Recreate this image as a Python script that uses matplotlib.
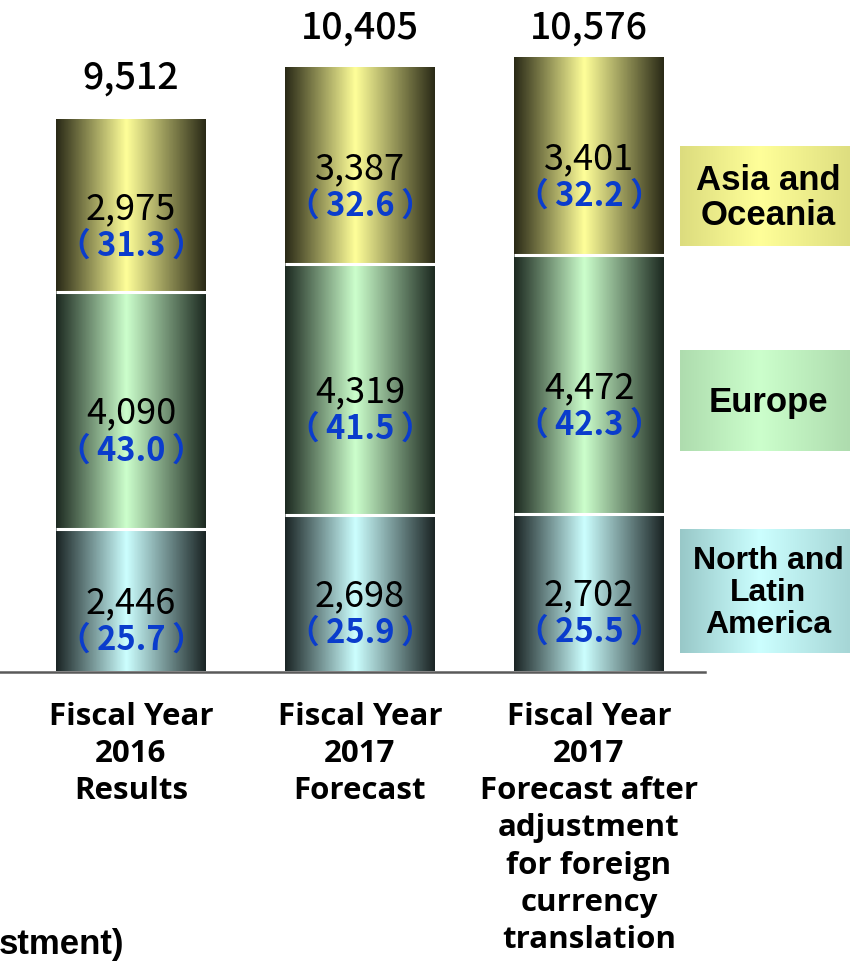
import numpy as np
import matplotlib
matplotlib.use("Agg")
import matplotlib.pyplot as plt
from matplotlib.colors import LinearSegmentedColormap

# sales by region (units), with share of total in %
periods = ["Fiscal Year\n2016\nResults",
           "Fiscal Year\n2017\nForecast",
           "Fiscal Year\n2017\nForecast after\nadjustment\nfor foreign\ncurrency\ntranslation"]
regions = ["North and\nLatin\nAmerica", "Europe", "Asia and\nOceania"]
north = [2446, 2698, 2702]
europe = [4090, 4319, 4472]
asia = [2975, 3387, 3401]
north_pct = [25.7, 25.9, 25.5]
europe_pct = [43.0, 41.5, 42.3]
asia_pct = [31.3, 32.6, 32.2]
totals = [9512, 10405, 10576]
footnote = "stment)"

W, H, DPI = 850, 962, 100
BASE_PX = 672           # baseline, px from top
PX_PER_UNIT = 0.05795   # vertical scale
BAR0_PX, STEP_PX, BAR_W_PX = 131, 229, 150

# bar shading: dark rims, light centre (cylinder look)
bar_cols = {
    "North and\nLatin\nAmerica": ("#1b2525", "#ccffff"),
    "Europe": ("#1d2a21", "#ccffcc"),
    "Asia and\nOceania": ("#2a2a17", "#ffff99"),
}
key_cols = {
    "North and\nLatin\nAmerica": ("#98c8c8", "#ccffff", "#a6d6d6"),
    "Europe": ("#aedcae", "#ccffcc", "#aedcae"),
    "Asia and\nOceania": ("#dcdc7e", "#ffff99", "#dede80"),
}
key_boxes = {  # (top px, bottom px, font size)
    "Asia and\nOceania": (147, 247, 25),
    "Europe": (352, 452, 25),
    "North and\nLatin\nAmerica": (530, 654, 23),
}

NUM_FONT = ["Noto Sans CJK JP", "DejaVu Sans"]
PCT_BLUE = "#0a3ccc"
THIN = "\u2009"

fig = plt.figure(figsize=(W / DPI, H / DPI), dpi=DPI)
fig.patch.set_facecolor("white")

# data axes: x in bar index, y in units
ax = fig.add_axes([0, 1 - BASE_PX / H, 1, BASE_PX / H])
ymax = BASE_PX / PX_PER_UNIT
xmin = -BAR0_PX / STEP_PX
xmax = (W - BAR0_PX) / STEP_PX
bw = BAR_W_PX / STEP_PX
ax.axis("off")

# overlay axes in pixel coordinates for chrome
ov = fig.add_axes([0, 0, 1, 1], zorder=3)
ov.set_xlim(0, W)
ov.set_ylim(H, 0)
ov.axis("off")
ov.patch.set_alpha(0)

grad = np.linspace(0, 1, 300)[None, :]
px = 1 / PX_PER_UNIT

series = [(regions[0], north, north_pct),
          (regions[1], europe, europe_pct),
          (regions[2], asia, asia_pct)]

bottoms = np.zeros(len(periods))
for name, vals, pcts in series:
    dark, light = bar_cols[name]
    cmap = LinearSegmentedColormap.from_list(
        name, [(0, dark), (0.47, light), (1, dark)])
    for i, (v, p) in enumerate(zip(vals, pcts)):
        b = bottoms[i]
        ax.imshow(grad, cmap=cmap, aspect="auto", interpolation="bilinear",
                  extent=[i - bw / 2, i + bw / 2, b, b + v], zorder=1)
        mid = b + v / 2
        ax.text(i, mid - 2 * px, f"{v:,}", ha="center", va="center",
                fontsize=26, family=NUM_FONT, color="black", zorder=4)
        ax.text(i, mid - 39 * px, f"（{THIN}{p:.1f}{THIN}）", ha="center",
                va="center", fontsize=23.5, family=NUM_FONT, fontweight="bold",
                color=PCT_BLUE, zorder=4)
    bottoms += np.array(vals)
    # white seam on top of each segment
    for i in range(len(periods)):
        if name != regions[-1]:
            ax.plot([i - bw / 2, i + bw / 2], [bottoms[i], bottoms[i]],
                    color="white", lw=2.2, solid_capstyle="butt", zorder=2)

# totals above bars, kept under the top edge
for i, t in enumerate(totals):
    y = min(t + 43 * px, ymax - 28 * px)
    ax.text(i, y, f"{t:,}", ha="center", va="center", fontsize=27,
            family=NUM_FONT, fontweight="medium", color="black", zorder=4)

ax.set_xlim(xmin, xmax)
ax.set_ylim(0, ymax)

# baseline
ov.plot([0, 705], [BASE_PX + 1, BASE_PX + 1], color="#5a5a5a", lw=1.8)

# region keys
for name, (top, bot, fs) in key_boxes.items():
    c0, c1, c2 = key_cols[name]
    cmap = LinearSegmentedColormap.from_list("k" + name, [(0, c0), (0.47, c1), (1, c2)])
    ov.imshow(grad, cmap=cmap, aspect="auto", interpolation="bilinear",
              extent=[680, 850, bot, top], zorder=1)
    ov.text(768, (top + bot) / 2 + 1, name, ha="center", va="center",
            fontsize=fs, family="Liberation Sans", fontweight="bold",
            linespacing=1.08, zorder=2)
ov.set_xlim(0, W)
ov.set_ylim(H, 0)

# period labels
for i, lab in enumerate(periods):
    ov.text(BAR0_PX + i * STEP_PX, 702, lab, ha="center", va="top",
            fontsize=22.5, family="Open Sans", fontweight="bold",
            linespacing=1.31)

ov.text(-1, 945, footnote, ha="left", va="center", fontsize=25,
        family="Liberation Sans", fontweight="bold")

fig.savefig("out.png", dpi=DPI, facecolor="white")
